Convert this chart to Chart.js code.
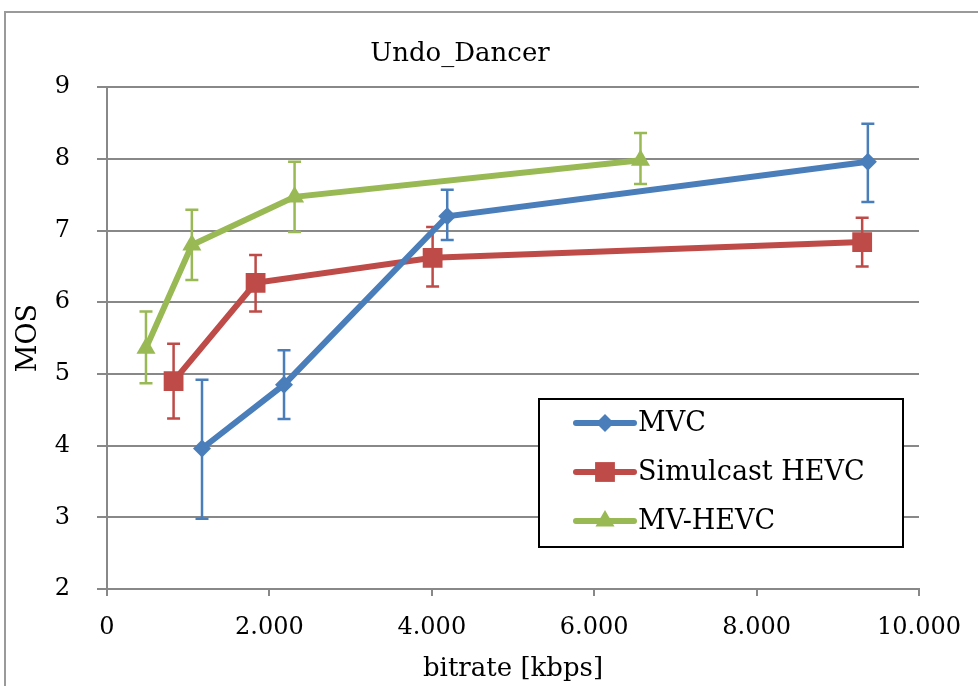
<!DOCTYPE html>
<html><head><meta charset="utf-8">
<script src="https://cdn.jsdelivr.net/npm/chart.js@4"></script>
<style>
html,body{margin:0;padding:0;background:#fff;overflow:hidden}
#frame{position:absolute;left:4px;top:11px;width:1200px;height:1000px;border:2px solid #9a9a9a;}
#wrap{position:absolute;left:0;top:0;width:978px;height:686px}
</style></head><body>
<div id="frame"></div>
<div id="wrap"><canvas id="c" width="978" height="686"></canvas></div>
<script>
const chartTitle = 'Undo_Dancer';
const seriesNames = ['MVC', 'Simulcast HEVC', 'MV-HEVC'];
const mvcX  = [1170, 2180, 4190, 9370];
const mvcY  = [3.96, 4.85, 7.20, 7.96];
const mvcLo = [2.98, 4.37, 6.87, 7.40];
const mvcHi = [4.92, 5.33, 7.57, 8.49];
const simX  = [820, 1830, 4010, 9300];
const simY  = [4.90, 6.27, 6.62, 6.84];
const simLo = [4.38, 5.87, 6.22, 6.50];
const simHi = [5.42, 6.66, 7.05, 7.18];
const mvhX  = [480, 1045, 2310, 6570];
const mvhY  = [5.36, 6.80, 7.47, 7.98];
const mvhLo = [4.87, 6.31, 6.98, 7.65];
const mvhHi = [5.87, 7.29, 7.96, 8.36];
const xTickLabels = ['0', '2.000', '4.000', '6.000', '8.000', '10.000'];
const yTickLabels = ['2', '3', '4', '5', '6', '7', '8', '9'];

const COLORS = ['#4A7EBB', '#BE4B48', '#98B954'];
const STYLES = ['rectRot', 'rect', 'triangle'];
const RADII = [9, 14, 11];

function pts(xs, ys) { return xs.map((x, i) => ({x: x, y: ys[i]})); }
const seriesData = [pts(mvcX, mvcY), pts(simX, simY), pts(mvhX, mvhY)];
const errData = [[mvcLo, mvcHi], [simLo, simHi], [mvhLo, mvhHi]];

const errorBars = {
  id: 'errorBars',
  beforeDatasetsDraw(chart) {
    const ctx = chart.ctx, xs = chart.scales.x, ys = chart.scales.y;
    chart.data.datasets.forEach((ds, i) => {
      const lo = errData[i][0], hi = errData[i][1];
      ctx.save();
      ctx.strokeStyle = ds.borderColor; ctx.lineWidth = 2.5;
      ds.data.forEach((p, j) => {
        const x = xs.getPixelForValue(p.x);
        const y1 = ys.getPixelForValue(lo[j]), y2 = ys.getPixelForValue(hi[j]);
        ctx.beginPath();
        ctx.moveTo(x, y1); ctx.lineTo(x, y2);
        ctx.moveTo(x - 6.5, y1); ctx.lineTo(x + 6.5, y1);
        ctx.moveTo(x - 6.5, y2); ctx.lineTo(x + 6.5, y2);
        ctx.stroke();
      });
      ctx.restore();
    });
  }
};

const legendBox = {
  id: 'legendBox',
  afterDraw(chart) {
    const ctx = chart.ctx;
    const L = 539, T = 399, R = 903, B = 547;
    ctx.save();
    ctx.fillStyle = '#fff'; ctx.fillRect(L, T, R - L, B - T);
    ctx.strokeStyle = '#000'; ctx.lineWidth = 2; ctx.strokeRect(L, T, R - L, B - T);
    const rows = [423, 472, 521];
    chart.data.datasets.forEach((ds, i) => {
      const y = rows[i];
      ctx.strokeStyle = ds.borderColor; ctx.lineWidth = 6; ctx.lineCap = 'round';
      ctx.beginPath(); ctx.moveTo(576, y); ctx.lineTo(634, y); ctx.stroke();
      ctx.fillStyle = ds.borderColor;
      Chart.helpers.drawPoint(ctx, {pointStyle: ds.pointStyle, radius: ds.pointRadius, borderWidth: 0, rotation: 0}, 605, y);
      ctx.fillStyle = '#000';
      ctx.font = '27px "DejaVu Serif"';
      ctx.textBaseline = 'middle'; ctx.textAlign = 'left';
      ctx.fillText(ds.label, 638, y + 1);
    });
    ctx.restore();
  }
};

new Chart(document.getElementById('c'), {
  type: 'line',
  data: {
    datasets: seriesNames.map((n, i) => ({
      label: n,
      data: seriesData[i],
      borderColor: COLORS[i],
      backgroundColor: COLORS[i],
      borderWidth: 6,
      pointStyle: STYLES[i],
      pointRadius: RADII[i],
      pointHoverRadius: RADII[i],
      pointBorderWidth: 0,
      pointBackgroundColor: COLORS[i],
      tension: 0,
      fill: false
    }))
  },
  options: {
    responsive: false,
    animation: false,
    devicePixelRatio: 1,
    layout: {padding: {left: 0, right: 58, top: 0, bottom: 0}},
    events: [],
    plugins: {
      legend: {display: false},
      tooltip: {enabled: false},
      title: {display: true, text: chartTitle, color: '#000',
        font: {family: 'DejaVu Serif', size: 26, weight: 'normal'},
        padding: {top: 39, bottom: 17}}
    },
    scales: {
      x: {
        type: 'linear', min: 0, max: 10000,
        ticks: {stepSize: 2000, color: '#000', maxRotation: 0, padding: 17,
          font: {family: 'DejaVu Serif', size: 24},
          callback: (v) => xTickLabels[Math.round(v / 2000)]},
        grid: {drawOnChartArea: false, drawTicks: true, tickLength: 7, color: '#888', lineWidth: 2},
        border: {display: true, color: '#888', width: 2},
        title: {display: true, text: 'bitrate [kbps]', color: '#000',
          font: {family: 'DejaVu Serif', size: 26}, padding: {top: 0, bottom: 1}},
        afterFit(s) { s.height = 97; }
      },
      y: {
        min: 2, max: 9,
        ticks: {stepSize: 1, color: '#000', padding: 27,
          font: {family: 'DejaVu Serif', size: 24},
          callback: (v) => yTickLabels[Math.round(v) - 2]},
        grid: {color: '#888', lineWidth: 2, tickLength: 10},
        border: {display: true, color: '#888', width: 2},
        title: {display: true, text: 'MOS', color: '#000',
          font: {family: 'DejaVu Serif', size: 27}, padding: {top: 13, bottom: 0}},
        afterFit(s) { s.width = 107; }
      }
    }
  },
  plugins: [errorBars, legendBox]
});
</script>
</body></html>
